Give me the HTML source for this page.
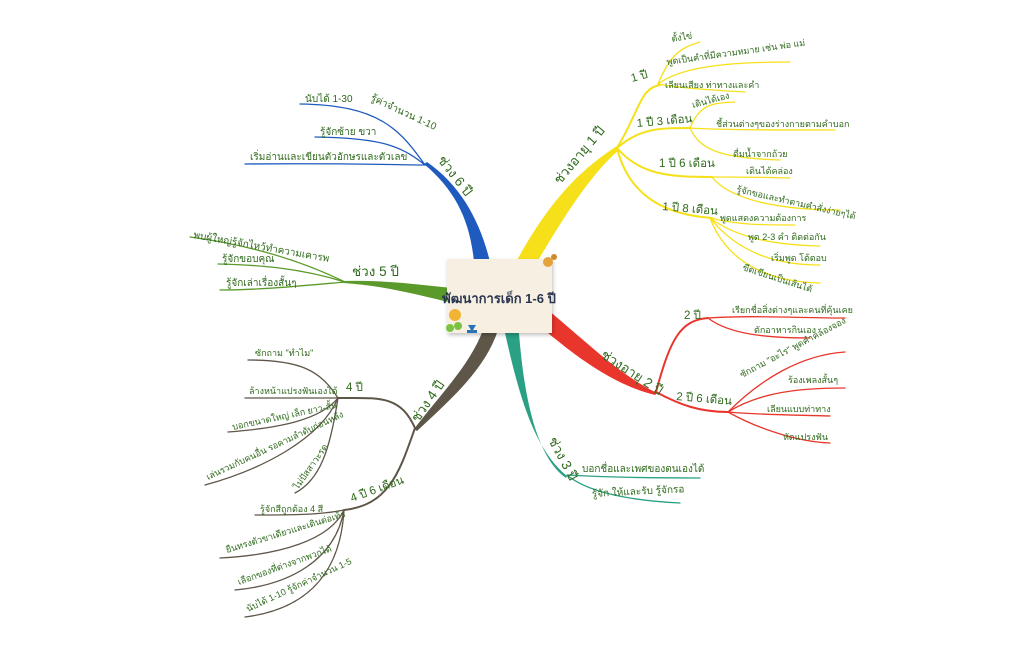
<!DOCTYPE html>
<html><head><meta charset="utf-8"><style>
html,body{margin:0;padding:0;background:#fff;}
svg{display:block;}
text{font-family:"Liberation Sans","Noto Sans CJK SC",sans-serif;fill:#2f6a1c;}
.l{font-size:9px;}
.s{font-size:11.5px;}
.m{font-size:13.5px;}
</style></head><body>
<svg width="1024" height="645" viewBox="0 0 1024 645" xmlns="http://www.w3.org/2000/svg">
<defs><filter id="sh" x="-20%" y="-20%" width="140%" height="140%"><feDropShadow dx="1" dy="2" stdDeviation="2" flood-opacity="0.25"/></filter></defs>
<!-- YELLOW -->
<g fill="none" stroke="#f6e01a" stroke-linecap="round">
<path d="M617,148 C640,110 640,88 660,85" stroke-width="2"/>
<path d="M658,84 C670,55 680,48 700,42" stroke-width="1.3"/>
<path d="M658,84 C680,68 720,62 790,62" stroke-width="1.3"/>
<path d="M658,84 C680,88 710,90 745,92" stroke-width="1.3"/>
<path d="M617,148 C640,128 660,128 690,128" stroke-width="2"/>
<path d="M690,128 C700,105 710,103 735,102" stroke-width="1.3"/>
<path d="M690,128 C720,130 780,130 835,130" stroke-width="1.3"/>
<path d="M690,128 C700,150 720,158 780,160" stroke-width="1.3"/>
<path d="M617,148 C640,175 670,177 712,177" stroke-width="2"/>
<path d="M712,177 C740,177 760,177 790,178" stroke-width="1.3"/>
<path d="M712,177 C730,200 780,210 840,210" stroke-width="1.3"/>
<path d="M617,148 C630,200 670,215 712,218" stroke-width="2"/>
<path d="M710,218 C740,225 760,225 795,225" stroke-width="1.3"/>
<path d="M710,218 C740,240 780,245 820,246" stroke-width="1.3"/>
<path d="M710,218 C740,255 780,265 820,265" stroke-width="1.3"/>
<path d="M710,218 C730,270 780,282 820,283" stroke-width="1.3"/>
</g>
<path d="M516,262 C550,200 580,170 617,146 L619,150 C590,175 565,215 536,264 Z" fill="#f6e01a"/>
<!-- BLUE -->
<g fill="none" stroke="#1f5bbf" stroke-linecap="round">
<path d="M425,165 C400,130 380,105 300,104" stroke-width="1.3"/>
<path d="M425,165 C400,145 380,138 315,137" stroke-width="1.3"/>
<path d="M425,165 C400,165 350,163 245,164" stroke-width="1.3"/>
</g>
<path d="M424,164 C455,190 470,220 474,262 L490,262 C480,220 460,185 427,162 Z" fill="#1f5bbf"/>
<!-- GREEN -->
<g fill="none" stroke="#5a9a2a" stroke-linecap="round">
<path d="M345,282 C300,260 250,245 190,237" stroke-width="1.3"/>
<path d="M345,282 C300,268 260,265 218,264" stroke-width="1.3"/>
<path d="M345,282 C300,286 260,290 220,290" stroke-width="1.3"/>
</g>
<path d="M343,281 C390,280 420,285 452,288 L452,303 C420,295 380,285 343,283 Z" fill="#5a9a2a"/>
<!-- BROWN -->
<g fill="none" stroke="#5e5648" stroke-linecap="round">
<path d="M415,428 C400,395 380,398 338,398" stroke-width="2"/>
<path d="M338,398 C320,370 300,360 248,360" stroke-width="1.3"/>
<path d="M338,398 C310,398 280,398 245,398" stroke-width="1.3"/>
<path d="M338,398 C320,420 280,428 228,432" stroke-width="1.3"/>
<path d="M338,398 C320,440 260,470 205,485" stroke-width="1.3"/>
<path d="M338,398 C330,450 320,480 295,493" stroke-width="1.3"/>
<path d="M415,428 C400,470 390,505 344,510" stroke-width="2"/>
<path d="M344,510 C320,515 290,515 255,515" stroke-width="1.3"/>
<path d="M344,510 C330,540 280,555 220,558" stroke-width="1.3"/>
<path d="M344,510 C335,560 290,585 235,590" stroke-width="1.3"/>
<path d="M344,510 C340,580 300,610 245,617" stroke-width="1.3"/>
</g>
<path d="M414,429 C440,395 470,365 483,330 L498,330 C485,370 450,400 417,431 Z" fill="#5e5648"/>
<!-- RED -->
<g fill="none" stroke="#e8362c" stroke-linecap="round">
<path d="M656,392 C670,340 680,320 708,318" stroke-width="2"/>
<path d="M708,318 C750,315 800,318 845,318" stroke-width="1.3"/>
<path d="M708,318 C730,335 770,338 810,338" stroke-width="1.3"/>
<path d="M656,392 C680,405 700,412 728,412" stroke-width="2"/>
<path d="M728,412 C760,380 800,355 845,352" stroke-width="1.3"/>
<path d="M728,412 C760,392 800,388 845,388" stroke-width="1.3"/>
<path d="M728,412 C760,415 800,415 830,416" stroke-width="1.3"/>
<path d="M728,412 C760,430 800,442 830,443" stroke-width="1.3"/>
</g>
<path d="M548,310 C590,345 620,375 657,393 L655,395 C615,385 580,360 542,328 Z" fill="#e8362c"/>
<!-- TEAL -->
<g fill="none" stroke="#2aa084" stroke-linecap="round">
<path d="M567,475 C600,477 650,478 700,478" stroke-width="1.3"/>
<path d="M567,475 C585,490 620,500 680,503" stroke-width="1.3"/>
</g>
<path d="M505,333 C520,400 535,450 567,476 L566,478 C540,460 525,410 519,333 Z" fill="#2aa084"/>
<!-- CARD -->
<rect x="447" y="259" width="105" height="74" fill="#f6efe2" filter="url(#sh)"/>
<circle cx="548" cy="262" r="5" fill="#e3a23a"/><circle cx="554" cy="257" r="3" fill="#d08a28"/>
<circle cx="455" cy="315" r="6" fill="#f2b533"/>
<circle cx="450" cy="328" r="4" fill="#7cc242"/><circle cx="458" cy="326" r="4" fill="#7cc242"/>
<path d="M468,325 h8 l-3,5 h4 v3 h-10 v-3 h4 z" fill="#2a72b8"/>
<text x="499" y="303" text-anchor="middle" style="font-size:13px;font-weight:bold;fill:#2a3550">พัฒนาการเด็ก 1-6 ปี</text>
<!-- main labels -->
<text class="m" transform="translate(560,185) rotate(-50)">ช่วงอายุ 1 ปี</text>
<text class="m" transform="translate(437,160) rotate(52)">ช่วง 6 ปี</text>
<text class="m" x="352" y="276">ช่วง 5 ปี</text>
<text class="m" transform="translate(418,423) rotate(-55)">ช่วง 4 ปี</text>
<text class="m" transform="translate(600,357) rotate(33)">ช่วงอายุ 2 ปี</text>
<text class="m" transform="translate(548,440) rotate(62)">ช่วง 3 ปี</text>
<!-- sub labels -->
<text class="s" transform="translate(632,82) rotate(-15)">1 ปี</text>
<text class="s" transform="translate(637,127) rotate(-5)">1 ปี 3 เดือน</text>
<text class="s" x="659" y="167">1 ปี 6 เดือน</text>
<text class="s" transform="translate(662,210) rotate(5)">1 ปี 8 เดือน</text>
<text class="s" x="684" y="319">2 ปี</text>
<text class="s" transform="translate(676,400) rotate(5)">2 ปี 6 เดือน</text>
<text class="s" x="346" y="391">4 ปี</text>
<text class="s" transform="translate(352,502) rotate(-20)">4 ปี 6 เดือน</text>
<!-- yellow leaves -->
<text class="l" transform="translate(672,42) rotate(-10)">ตั้งไข่</text>
<text class="l" transform="translate(667,65) rotate(-8)">พูดเป็นคำที่มีความหมาย เช่น พ่อ แม่</text>
<text class="l" x="665" y="88">เลียนเสียง ท่าทางและคำ</text>
<text class="l" transform="translate(693,108) rotate(-15)">เดินได้เอง</text>
<text class="l" x="716" y="127">ชี้ส่วนต่างๆของร่างกายตามคำบอก</text>
<text class="l" x="733" y="157">ดื่มน้ำจากถ้วย</text>
<text class="l" x="746" y="174">เดินได้คล่อง</text>
<text class="l" transform="translate(736,192) rotate(13)">รู้จักขอและทำตามคำสั่งง่ายๆได้</text>
<text class="l" x="720" y="221">พูดแสดงความต้องการ</text>
<text class="l" x="748" y="240">พูด 2-3 คำ ติดต่อกัน</text>
<text class="l" x="771" y="261">เริ่มพูด โต้ตอบ</text>
<text class="l" transform="translate(742,270) rotate(18)">ขีดเขียนเป็นเส้นได้</text>
<!-- red leaves -->
<text class="l" x="732" y="313">เรียกชื่อสิ่งต่างๆและคนที่คุ้นเคย</text>
<text class="l" x="754" y="333">ตักอาหารกินเอง</text>
<text class="l" transform="translate(742,378) rotate(-28)">ซักถาม "อะไร" พูดคำคล้องจอง</text>
<text class="l" x="788" y="383">ร้องเพลงสั้นๆ</text>
<text class="l" x="767" y="412">เลียนแบบท่าทาง</text>
<text class="l" x="783" y="440">หัดแปรงฟัน</text>
<!-- teal leaves -->
<text class="l" style="font-size:10px" x="582" y="472">บอกชื่อและเพศของตนเองได้</text>
<text class="l" style="font-size:10px" transform="translate(592,497) rotate(-3)">รู้จัก ให้และรับ รู้จักรอ</text>
<!-- blue leaves -->
<text class="l" style="font-size:10px" x="305" y="102">นับได้ 1-30</text>
<text class="l" style="font-size:10px" transform="translate(370,100) rotate(25)">รู้ค่าจำนวน 1-10</text>
<text class="l" style="font-size:10px" x="320" y="135">รู้จักซ้าย ขวา</text>
<text class="l" style="font-size:10px" x="250" y="160">เริ่มอ่านและเขียนตัวอักษรและตัวเลข</text>
<!-- green leaves -->
<text class="l" style="font-size:10px" transform="translate(193,238) rotate(10)">พบผู้ใหญ่รู้จักไหว้ทำความเคารพ</text>
<text class="l" style="font-size:10px" x="222" y="262">รู้จักขอบคุณ</text>
<text class="l" style="font-size:10px" x="226" y="286">รู้จักเล่าเรื่องสั้นๆ</text>
<!-- brown leaves -->
<text class="l" x="255" y="356">ซักถาม "ทำไม"</text>
<text class="l" x="249" y="394">ล้างหน้าแปรงฟันเองได้</text>
<text class="l" transform="translate(233,430) rotate(-12)">บอกขนาดใหญ่ เล็ก ยาว-สั้น</text>
<text class="l" transform="translate(208,480) rotate(-25)">เล่นรวมกับคนอื่น รอคามลำดับก่อนหลัง</text>
<text class="l" transform="translate(298,490) rotate(-55)">ไม่ปัสสาวะรด</text>
<text class="l" x="260" y="512">รู้จักสีถูกต้อง 4 สี</text>
<text class="l" transform="translate(227,553) rotate(-17)">ยืนทรงตัวขาเดียวและเดินต่อเท้า</text>
<text class="l" transform="translate(239,585) rotate(-20)">เลือกของที่ต่างจากพวกได้</text>
<text class="l" transform="translate(248,612) rotate(-25)">นับได้ 1-10 รู้จักค่าจำนวน 1-5</text>
</svg>
</body></html>
